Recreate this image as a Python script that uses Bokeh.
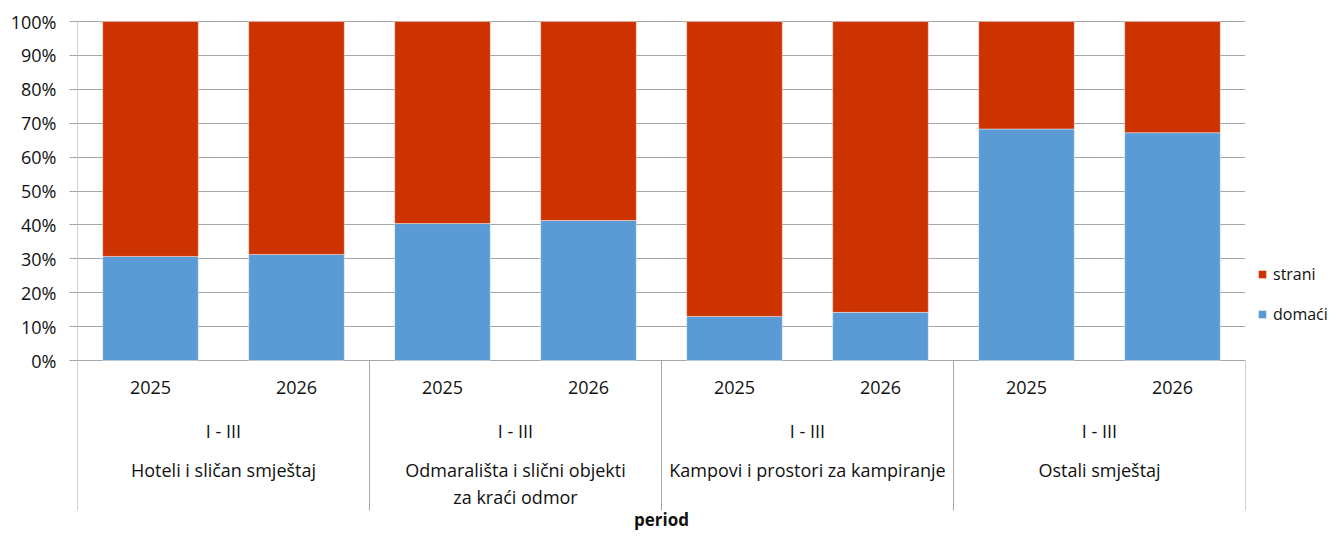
from bokeh.plotting import figure
from bokeh.models import (Range1d, FixedTicker, CustomJSTickFormatter, ColumnDataSource,
                          Legend, LegendItem)
from bokeh.core.properties import value
from bokeh.embed import file_html
from bokeh.resources import INLINE

categories = ["Hoteli i sličan smještaj",
              "Odmarališta i slični objekti\nza kraći odmor",
              "Kampovi i prostori za kampiranje",
              "Ostali smještaj"]
period_label = "I - III"
years = ["2025", "2026"]
domaci = [30.7, 31.3, 40.4, 41.3, 13.0, 14.2, 68.3, 67.2]
strani = [69.3, 68.7, 59.6, 58.7, 87.0, 85.8, 31.7, 32.8]
y_ticks = [0, 10, 20, 30, 40, 50, 60, 70, 80, 90, 100]
x_title = "period"

BLUE = "#5B9BD5"
RED = "#CC3300"
GRAY = "#A6A6A6"
TXT = "#111111"
FONT = "Open Sans"

n_groups = len(categories)
n_bars = n_groups * len(years)
xs = [i + 0.5 for i in range(n_bars)]
year_labels = [y for _ in categories for y in years]
group_x = [g * len(years) + len(years) / 2 for g in range(n_groups)]
sep_x = [g * len(years) for g in range(n_groups + 1)]

Y_BOTTOM = -50.74
Y_SEP = -44.25

p = figure(width=1327, height=532, output_backend="svg", toolbar_location=None,
           x_range=Range1d(0, n_bars), y_range=Range1d(Y_BOTTOM, 100.3),
           frame_width=1168, frame_height=512,
           min_border_left=77, min_border_top=20, min_border_right=82, min_border_bottom=0)
p.outline_line_color = None
p.background_fill_color = "white"
p.border_fill_color = "white"
p.xaxis.visible = False

src = ColumnDataSource(dict(x=xs, domaci=domaci, strani=strani))
rs = p.vbar_stack(["domaci", "strani"], x="x", width=0.655, color=[BLUE, RED],
                  line_color="white", line_width=0.6, line_alpha=0.7, source=src)

# y axis
p.yaxis.ticker = FixedTicker(ticks=y_ticks)
p.yaxis.formatter = CustomJSTickFormatter(code="return tick + '%';")
p.yaxis.axis_line_color = None
p.yaxis.major_tick_line_color = GRAY
p.yaxis.major_tick_out = 8
p.yaxis.major_tick_in = 0
p.yaxis.minor_tick_line_color = None
p.yaxis.major_label_standoff = 13
p.yaxis.major_label_text_font = FONT
p.yaxis.major_label_text_font_size = "18px"
p.yaxis.major_label_text_color = TXT

p.ygrid.ticker = FixedTicker(ticks=y_ticks)
p.ygrid.grid_line_color = GRAY
p.ygrid.grid_line_width = 1
p.xgrid.grid_line_color = None

# axis line and group separators
sep_top = [100] + [0] * (len(sep_x) - 1)
p.segment(x0=sep_x, y0=sep_top, x1=sep_x, y1=[Y_SEP] * len(sep_x),
          line_color=GRAY, line_width=1)

# category labels
common = dict(text_align="center", text_font=value(FONT), text_font_size="18px", text_color=TXT)
p.text(x=xs, y=[-7.96] * n_bars, text=year_labels, text_baseline="middle", **common)
p.text(x=group_x, y=[-20.65] * n_groups, text=[period_label] * n_groups,
       text_baseline="middle", **common)
p.text(x=group_x, y=[-28.8] * n_groups, text=categories, text_baseline="top",
       text_line_height=1.1, **common)
p.text(x=[n_bars / 2], y=[Y_BOTTOM + 0.3], text=[x_title], text_baseline="bottom",
       text_align="center", text_font=value(FONT), text_font_size="17px",
       text_font_style="bold", text_color=TXT)

legend = Legend(items=[LegendItem(label="strani", renderers=[rs[1]]),
                       LegendItem(label="domaći", renderers=[rs[0]])],
                location=(12, 207), orientation="vertical")
legend.glyph_width = 10
legend.glyph_height = 10
legend.label_height = 20
legend.label_standoff = 6
legend.spacing = 18
legend.padding = 0
legend.margin = 0
legend.border_line_color = None
legend.background_fill_alpha = 0
legend.label_text_font = FONT
legend.label_text_font_size = "16px"
legend.label_text_color = TXT
p.add_layout(legend, "right")

open("out.html", "w").write(file_html(p, INLINE))
